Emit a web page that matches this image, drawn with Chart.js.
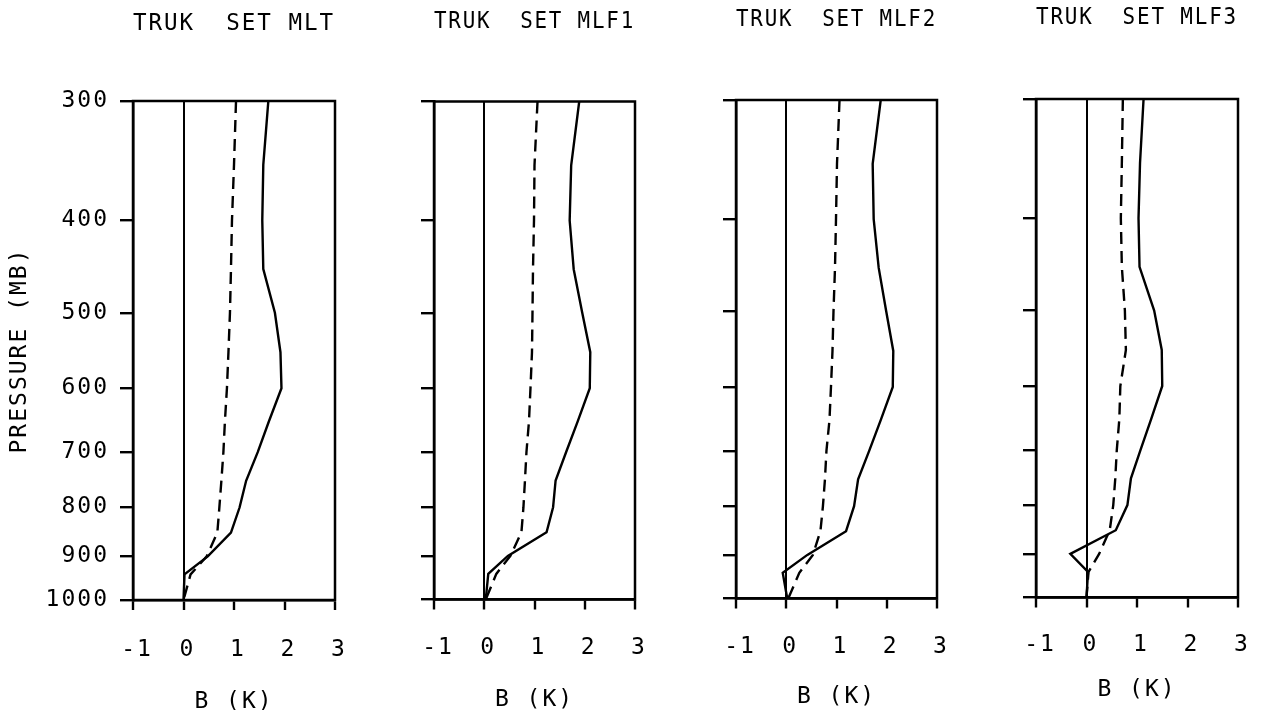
<!DOCTYPE html>
<html>
<head>
<meta charset="utf-8">
<script src="https://cdn.jsdelivr.net/npm/chart.js@4.4.1/dist/chart.umd.min.js"></script>
<style>
  html, body { margin: 0; padding: 0; background: #fff; overflow: hidden; }
  #wrap { position: relative; width: 1263px; height: 710px; overflow: hidden; }
  #wrap canvas { position: absolute; top: 0; }
</style>
</head>
<body>
<div id="wrap"></div>
<script>
// pressure levels (mb) shared by every profile
const levels = [300, 350, 400, 450, 500, 550, 600, 650, 700, 750, 800, 850, 900, 940, 1000];
const pressureTicks = [300, 400, 500, 600, 700, 800, 900, 1000];
const xTicks = [-1, 0, 1, 2, 3];
const titles = ['TRUK  SET MLT', 'TRUK  SET MLF1', 'TRUK  SET MLF2', 'TRUK  SET MLF3'];

// B (K), solid and dashed curve of each panel
const mltSolid   = [1.68, 1.58, 1.56, 1.58, 1.81, 1.92, 1.94, 1.69, 1.47, 1.24, 1.11, 0.94, 0.48, 0.02, 0.00];
const mltDashed  = [1.04, 1.00, 0.96, 0.94, 0.92, 0.89, 0.86, 0.82, 0.79, 0.75, 0.71, 0.67, 0.46, 0.14, 0.00];
const mlf1Solid  = [1.89, 1.73, 1.70, 1.78, 1.95, 2.11, 2.10, 1.86, 1.63, 1.42, 1.37, 1.24, 0.47, 0.08, 0.03];
const mlf1Dashed = [1.06, 1.00, 0.99, 0.97, 0.96, 0.95, 0.92, 0.89, 0.84, 0.81, 0.78, 0.74, 0.52, 0.24, 0.03];
const mlf2Solid  = [1.88, 1.72, 1.74, 1.84, 1.99, 2.13, 2.12, 1.88, 1.65, 1.43, 1.35, 1.19, 0.42, -0.07, 0.02];
const mlf2Dashed = [1.06, 1.01, 0.99, 0.97, 0.94, 0.92, 0.89, 0.86, 0.80, 0.77, 0.73, 0.68, 0.53, 0.26, 0.04];
const mlf3Solid  = [1.13, 1.06, 1.03, 1.05, 1.34, 1.49, 1.50, 1.28, 1.07, 0.88, 0.81, 0.58, -0.32, 0.03, 0.00];
const mlf3Dashed = [0.72, 0.70, 0.68, 0.70, 0.76, 0.78, 0.67, 0.65, 0.60, 0.57, 0.53, 0.46, 0.25, 0.04, 0.00];

const solids = [mltSolid, mlf1Solid, mlf2Solid, mlf3Solid];
const dashes = [mltDashed, mlf1Dashed, mlf2Dashed, mlf3Dashed];

// where each panel sits on the page (the scan is a little tilted)
const boxes = [
  { left: 133,  right: 335,  top: 101,   bottom: 600,   titleY: 24, tickY: 650, labelY: 702 },
  { left: 434,  right: 635,  top: 101.5, bottom: 599.5, titleY: 22, tickY: 648, labelY: 700 },
  { left: 736,  right: 937,  top: 100,   bottom: 598.5, titleY: 20, tickY: 647, labelY: 697 },
  { left: 1036, right: 1238, top: 99,    bottom: 597.5, titleY: 18, tickY: 645, labelY: 690 }
];

const FAMILY = 'DejaVu Sans Mono';
const FS = 23;
const LH = 1.2;
const lineH = FS * LH;
const TOTAL_H = 730;
const YAXIS_W = 60;
const RIGHT_PAD = 55;
const font = { family: FAMILY, size: FS, lineHeight: LH, weight: 'normal' };

// plotter lettering is widely spaced
const spacing = {
  id: 'spacing',
  beforeUpdate(c) { c.ctx.letterSpacing = '2px'; },
  beforeDraw(c) { c.ctx.letterSpacing = '2px'; }
};

// box round the plot area
const frame = {
  id: 'frame',
  afterDatasetsDraw(chart) {
    const { ctx, chartArea: a } = chart;
    ctx.save();
    ctx.strokeStyle = '#000';
    ctx.lineWidth = 2.5;
    ctx.strokeRect(a.left, a.top, a.right - a.left, a.bottom - a.top);
    ctx.restore();
  }
};

const pts = vals => levels.map((p, i) => ({ x: vals[i], y: p }));

const wrap = document.getElementById('wrap');

titles.forEach((title, i) => {
  const b = boxes[i];
  const first = i === 0;
  const axisW = first ? b.left : YAXIS_W;
  const canvasLeft = b.left - axisW;
  const w = b.right - canvasLeft + RIGHT_PAD;

  const cv = document.createElement('canvas');
  cv.width = w;
  cv.height = TOTAL_H;
  cv.style.left = canvasLeft + 'px';
  cv.style.width = w + 'px';
  cv.style.height = TOTAL_H + 'px';
  wrap.appendChild(cv);

  const titleTop = b.titleY - lineH / 2;

  new Chart(cv, {
    type: 'scatter',
    data: {
      datasets: [
        { data: pts(solids[i]), showLine: true, borderColor: '#000', borderWidth: 2.4, pointRadius: 0, tension: 0 },
        { data: pts(dashes[i]), showLine: true, borderColor: '#000', borderWidth: 2.4, borderDash: [12, 7], pointRadius: 0, tension: 0 }
      ]
    },
    options: {
      responsive: false,
      animation: false,
      devicePixelRatio: 1,
      layout: { padding: { left: 0, right: RIGHT_PAD, top: 0, bottom: 0 } },
      plugins: {
        legend: { display: false },
        tooltip: { enabled: false },
        title: {
          display: true,
          text: title,
          fullSize: false,
          color: '#000',
          font: font,
          padding: { top: titleTop, bottom: b.top - titleTop - lineH }
        }
      },
      scales: {
        x: {
          type: 'linear',
          min: -1,
          max: 3,
          afterBuildTicks: s => { s.ticks = xTicks.map(v => ({ value: v })); },
          afterFit: s => { s.height = TOTAL_H - b.bottom; },
          grid: {
            drawOnChartArea: true,
            color: c => (c.tick && c.tick.value === 0) ? '#000' : 'rgba(0,0,0,0)',
            lineWidth: 2,
            tickColor: '#000',
            tickWidth: 2.4,
            tickLength: 10
          },
          border: { display: true, color: '#000', width: 2.5 },
          ticks: {
            color: '#000',
            font: font,
            padding: b.tickY - b.bottom - 10 - lineH / 2,
            maxRotation: 0,
            autoSkip: false,
            labelOffset: 4,
            callback: v => String(v)
          },
          title: {
            display: true,
            text: 'B (K)',
            color: '#000',
            font: font,
            padding: { top: 0, bottom: TOTAL_H - b.labelY - lineH / 2 }
          }
        },
        y: {
          type: 'logarithmic',
          reverse: true,
          min: 300,
          max: 1000,
          afterBuildTicks: s => { s.ticks = pressureTicks.map(v => ({ value: v })); },
          afterFit: s => { s.width = axisW; },
          grid: { drawOnChartArea: false, color: '#000', lineWidth: 2.4, tickLength: 13 },
          border: { display: true, color: '#000', width: 2.5 },
          ticks: {
            display: first,
            color: '#000',
            font: font,
            padding: 11,
            autoSkip: false,
            callback: v => String(v)
          },
          title: {
            display: first,
            text: 'PRESSURE (MB)',
            color: '#000',
            font: font,
            padding: { top: 20 - lineH / 2, bottom: 0 }
          }
        }
      }
    },
    plugins: [spacing, frame]
  });
});
</script>
</body>
</html>
